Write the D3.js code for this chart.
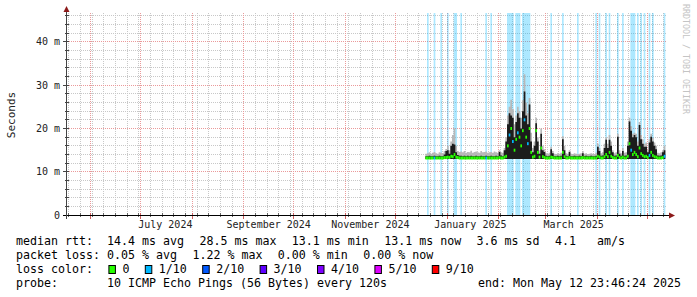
<!DOCTYPE html>
<html>
<head>
<meta charset="utf-8">
<script src="https://cdn.jsdelivr.net/npm/d3@7"></script>
<style>
body { margin: 0; background: #fff; }
svg text { font-family: "DejaVu Sans Mono", monospace; white-space: pre; }
</style>
</head>
<body>
<svg id="chart" width="697" height="297"></svg>
<script>
// one value per day, starting 2024-12-19 (values in ms)
var firstDay = new Date(2024, 11, 19);
var endTime = new Date(2025, 4, 12, 23, 46, 24);

var median = [
  13.2,13.2,13.2,13.2,13.2,13.2,13.2,13.2,13.2,13.2, 13.2,13.3,13.3,13.4,13.3,13.6,13.5,14.0,13.4,13.3,
  13.2,13.2,13.2,13.2,13.2,13.2,13.2,13.2,13.2,13.2, 13.2,13.2,13.2,13.2,13.2,13.2,13.2,13.2,13.2,13.2,
  13.2,13.2,13.2,13.2,13.3,13.2,13.2,13.4,13.6,16.0, 18.5,20.0,17.0,15.0,17.5,19.0,18.0,16.0,19.5,22.0,
  18.0,16.5,20.0,14.5,13.4,13.6,19.5,14.5,13.4,15.5, 13.5,13.3,13.2,13.2,13.2,13.4,13.3,13.2,13.2,13.2,
  13.2,13.2,14.5,13.5,13.2,13.2,13.3,13.2,13.2,13.2, 13.2,13.2,13.2,13.2,13.3,13.2,13.2,13.2,13.2,13.2,
  13.2,13.2,13.2,13.6,13.4,13.2,13.2,13.5,14.0,13.5, 14.5,13.6,13.3,13.2,13.2,13.8,13.3,13.2,13.4,13.2,
  13.2,13.6,16.5,15.0,14.0,14.5,14.0,13.5,15.5,14.2, 13.8,13.5,13.6,13.3,13.8,14.5,13.8,13.5,13.4,13.2,
  13.2,13.2,13.3,13.6
];
var coreTop = [
  13.6,13.6,13.7,13.6,13.6,13.7,13.6,13.6,13.7,13.6, 13.6,14.0,14.8,15.0,14.2,16.0,16.5,16.3,14.5,13.9,
  13.7,13.7,13.6,13.7,13.6,13.7,13.6,13.7,13.6,13.6, 13.7,13.6,13.6,13.7,13.6,13.6,13.7,13.6,13.6,13.7,
  13.6,13.6,13.7,13.6,14.6,13.8,13.6,15.0,17.0,21.0, 23.5,23.0,22.5,18.0,21.5,23.5,22.5,20.0,24.0,28.5,
  23.0,21.0,25.5,17.0,14.5,16.0,21.2,17.0,14.2,18.8, 15.0,14.6,13.7,13.6,13.7,15.2,14.3,13.6,13.6,13.7,
  13.6,13.7,17.5,15.0,13.7,13.6,14.6,13.6,13.6,13.7, 13.6,13.6,13.7,13.6,14.3,13.6,13.7,13.6,13.6,13.7,
  13.6,13.6,13.7,15.8,14.8,13.7,13.8,15.5,17.4,15.5, 17.4,16.0,14.5,13.7,13.8,18.1,14.2,13.7,14.8,13.7,
  13.8,16.0,21.6,19.5,18.0,18.5,18.0,16.0,20.8,17.5, 16.5,15.8,15.8,14.5,16.8,18.1,17.0,16.0,15.2,13.8,
  13.7,13.8,14.5,15.0
];
var smokeTop = [
  14.2,14.3,14.5,14.2,14.4,14.6,14.3,14.2,14.5,14.4, 14.3,14.8,15.3,16.0,15.0,17.0,18.5,20.0,16.0,14.8,
  14.6,14.7,14.5,14.8,14.4,14.6,14.5,14.9,14.4,14.6, 14.7,14.5,14.4,14.8,14.5,14.6,14.7,14.4,14.5,14.6,
  14.4,14.7,14.5,14.4,15.0,14.5,14.4,15.5,18.0,23.0, 25.0,26.6,24.5,21.0,23.0,25.0,24.0,22.5,26.5,32.5,
  26.0,23.5,27.0,19.0,15.5,17.0,22.5,18.0,15.0,20.0, 16.0,15.2,14.3,14.2,14.4,15.8,14.8,14.2,14.1,14.3,
  14.2,14.4,18.2,16.0,14.3,14.2,15.0,14.2,14.1,14.3, 14.2,14.1,14.2,14.3,14.8,14.2,14.3,14.1,14.2,14.3,
  14.2,14.1,14.4,16.5,15.5,14.3,14.5,16.5,18.0,16.5, 18.5,17.0,15.0,14.3,14.5,18.8,15.0,14.3,15.5,14.4,
  14.5,17.0,22.5,20.5,18.8,19.0,18.8,17.0,21.5,18.5, 17.5,16.5,16.8,15.0,17.5,18.8,17.8,16.8,16.0,14.4,
  14.3,14.5,15.0,16.0
];
var smokeFloor = 13.0;
// days on which the median itself shows 1/10 loss
var blueMedianDays = [5, 36, 50, 52, 55, 59, 61, 123, 134, 143];
// [first day, last day] ranges with packet loss (background stripes)
var lossRanges = [
  [1,1],[5,5],[9,9],[13,13],[17,18],[21,21],[36,36],[39,39],[49,52],[54,56],[58,62],
  [75,75],[82,82],[91,91],[102,102],[104,104],[108,108],[110,110],[115,115],[118,118],
  [123,125],[127,127],[129,129],[131,131],[134,134],[136,136],[143,143]
];

var yTicks = [0, 10, 20, 30, 40];
var yTickLabels = ["0", "10 m", "20 m", "30 m", "40 m"];
var monthLabels = [
  [[2024, 6, 16], "July 2024"], [[2024, 8, 16], "September 2024"], [[2024, 10, 16], "November 2024"],
  [[2025, 0, 15], "January 2025"], [[2025, 2, 18], "March 2025"]
];
var legendRows = [
  ["median rtt:  14.4 ms avg", "28.5 ms max", "13.1 ms min", "13.1 ms now", "3.6 ms sd", "4.1   am/s"],
  ["packet loss: 0.05 % avg", "1.22 % max", "0.00 % min", "0.00 % now"]
];
var lossLegend = [["0", "#26ff00"], ["1/10", "#00b8ff"], ["2/10", "#0059ff"], ["3/10", "#5e00ff"],
                  ["4/10", "#7e00ff"], ["5/10", "#dd00ff"], ["9/10", "#ff0000"]];
var probeText = "probe:       10 ICMP Echo Pings (56 Bytes) every 120s";
var endText = "end: Mon May 12 23:46:24 2025";

var svg = d3.select("#chart");
var plotLeft = 67, plotRight = 667, plotTop = 13, plotBottom = 215;
var startTime = d3.timeDay.offset(endTime, -360);

var x = d3.scaleTime().domain([startTime, endTime]).range([plotLeft, plotRight]);
var y = d3.scaleLinear().domain([0, 46.08]).range([215.3, 15.3]);
var px = (v) => Math.floor(v) + 0.5;

svg.append("rect").attr("width", 697).attr("height", 297).attr("fill", "#fff");

// Grid
var grid = svg.append("g").attr("stroke-dasharray", "1,1").attr("stroke-width", 1);
var minorY = d3.range(2, 47, 2).filter((v) => v % 10 !== 0);
grid.selectAll("line.my").data(minorY).enter().append("line")
    .attr("x1", plotLeft).attr("x2", plotRight)
    .attr("y1", (d) => px(y(d))).attr("y2", (d) => px(y(d)))
    .attr("stroke", "#c8c8c8");
var weeks = d3.timeSunday.range(startTime, endTime).filter((d) => d.getDate() !== 1);
grid.selectAll("line.mx").data(weeks).enter().append("line")
    .attr("x1", (d) => px(x(d))).attr("x2", (d) => px(x(d)))
    .attr("y1", plotTop).attr("y2", plotBottom)
    .attr("stroke", "#c8c8c8");
grid.selectAll("line.My").data(yTicks.slice(1)).enter().append("line")
    .attr("x1", plotLeft).attr("x2", plotRight)
    .attr("y1", (d) => px(y(d))).attr("y2", (d) => px(y(d)))
    .attr("stroke", "#eb9a9a");
var months = d3.timeMonth.range(startTime, endTime);
grid.selectAll("line.Mx").data(months).enter().append("line")
    .attr("x1", (d) => px(x(d))).attr("x2", (d) => px(x(d)))
    .attr("y1", plotTop).attr("y2", plotBottom)
    .attr("stroke", "#eb9a9a");

// Loss background stripes
svg.append("g").selectAll("rect").data(lossRanges).enter().append("rect")
    .attr("x", (d) => x(d3.timeDay.offset(firstDay, d[0])))
    .attr("width", (d) => x(d3.timeDay.offset(firstDay, d[1] + 1)) - x(d3.timeDay.offset(firstDay, d[0])))
    .attr("y", plotTop).attr("height", plotBottom - plotTop)
    .attr("fill", "#00b8ff").attr("fill-opacity", 0.32);

// Smoke
var days = median.map((m, i) => ({
    date: d3.timeDay.offset(firstDay, i), median: m, core: coreTop[i], top: smokeTop[i], i: i
}));
var pts = days.concat([Object.assign({}, days[days.length - 1], {date: d3.timeDay.offset(firstDay, days.length)})]);
var smokeArea = (key) => d3.area().curve(d3.curveStepAfter)
    .x((d) => x(d.date)).y0(y(smokeFloor)).y1((d) => y(d[key]));
svg.append("path").datum(pts).attr("d", smokeArea("top")).attr("fill", "#b8b8b8");
svg.append("path").datum(pts).attr("d", smokeArea("core")).attr("fill", "#1c1c1c");

// Median dashes coloured by loss
svg.append("g").selectAll("rect").data(days).enter().append("rect")
    .attr("x", (d) => x(d.date))
    .attr("width", (d) => x(d3.timeDay.offset(d.date, 1)) - x(d.date))
    .attr("y", (d) => y(d.median) - 1.5).attr("height", 3)
    .attr("fill", (d) => blueMedianDays.includes(d.i) ? "#00b8ff" : "#26ff00");

// Axes
var axes = svg.append("g");
axes.selectAll("line.yt").data(d3.range(0, 47, 2)).enter().append("line")
    .attr("x1", (d) => d % 10 === 0 ? 63 : 65).attr("x2", 69)
    .attr("y1", (d) => px(y(d))).attr("y2", (d) => px(y(d)))
    .attr("stroke", "#444");
axes.selectAll("line.xt").data(weeks.concat(months)).enter().append("line")
    .attr("x1", (d) => px(x(d))).attr("x2", (d) => px(x(d)))
    .attr("y1", 213).attr("y2", (d) => d.getDate() === 1 ? 219 : 217)
    .attr("stroke", (d) => d.getDate() === 1 ? "#d06060" : "#666");
axes.append("line").attr("x1", 63).attr("x2", 670).attr("y1", 215.5).attr("y2", 215.5)
    .attr("stroke", "#000");
axes.append("line").attr("x1", 66.5).attr("x2", 66.5).attr("y1", 219).attr("y2", 10)
    .attr("stroke", "#444");
axes.append("path").attr("d", "M63.5,12 L69.5,12 L66.5,6 Z").attr("fill", "#8c1a1a");
axes.append("path").attr("d", "M669,212.5 L669,218.5 L675,215.5 Z").attr("fill", "#8c1a1a");

// Tick labels
svg.append("g").selectAll("text").data(yTicks).enter().append("text")
    .attr("x", 60).attr("y", (d) => y(d) + 3.6)
    .attr("text-anchor", "end").attr("font-size", "10px").attr("fill", "#222")
    .text((d, i) => yTickLabels[i]);
svg.append("g").selectAll("text").data(monthLabels).enter().append("text")
    .attr("x", (d) => x(new Date(d[0][0], d[0][1], d[0][2]))).attr("y", 228)
    .attr("text-anchor", "middle").attr("font-size", "10px").attr("fill", "#222")
    .text((d) => d[1]);

svg.append("text").attr("transform", "translate(14.5,115) rotate(-90)")
    .attr("text-anchor", "middle").attr("font-size", "11px").attr("fill", "#222")
    .text("Seconds");
svg.append("text").attr("transform", "translate(683,4) rotate(90)")
    .attr("font-size", "8.3px").attr("fill", "#c4c4c4")
    .text("RRDTOOL / TOBI OETIKER");

// Legend
var cw = 7, gap = 15.4, lx = 16, fs = "11.63px";
var legend = svg.append("g").attr("font-size", fs).attr("fill", "#000");
legendRows.forEach(function(items, r) {
    var cx = lx;
    items.forEach(function(t) {
        legend.append("text").attr("x", cx).attr("y", 245 + r * 14).text(t);
        cx += t.length * cw + gap;
    });
});
legend.append("text").attr("x", lx).attr("y", 273).text("loss color:");
var bx = lx + 11 * cw + gap;
lossLegend.forEach(function(d) {
    legend.append("rect").attr("x", bx + 0.5).attr("y", 265.5).attr("width", 6.5).attr("height", 8)
        .attr("fill", d[1]).attr("stroke", "#000").attr("stroke-width", 1);
    legend.append("text").attr("x", bx + 14).attr("y", 273).text(d[0]);
    bx += 14 + d[0].length * cw + gap;
});
legend.append("text").attr("x", lx).attr("y", 287).text(probeText);
legend.append("text").attr("x", 681).attr("y", 287).attr("text-anchor", "end").text(endText);
</script>
</body>
</html>
